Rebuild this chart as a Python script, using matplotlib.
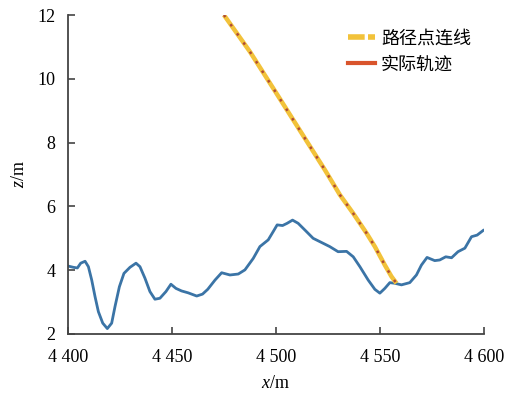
import matplotlib.pyplot as plt
from matplotlib.lines import Line2D

# terrain profile
terrain_x = [4400, 4402.6, 4404.5, 4406.1, 4408.2, 4409.8, 4411.4, 4413.0, 4414.6, 4416.7,
             4418.9, 4421.0, 4422.6, 4424.7, 4426.9, 4429.8, 4432.7, 4434.6, 4437.0, 4439.4,
             4441.8, 4444.2, 4447.1, 4449.5, 4451.9, 4454.6, 4457.8, 4461.9, 4464.7, 4467.2,
             4470.7, 4473.9, 4477.9, 4481.9, 4485.1, 4489.1, 4492.3, 4496.3, 4498.7, 4500.6,
             4503.2, 4505.4, 4508.0, 4510.7, 4514.4, 4517.9, 4521.9, 4525.9, 4529.9, 4534.0,
             4537.2, 4540.4, 4544.4, 4547.6, 4550.0, 4552.4, 4554.8, 4557.2, 4560.4, 4564.4,
             4567.6, 4570.0, 4572.7, 4576.4, 4578.8, 4581.7, 4584.5, 4587.6, 4590.9, 4594.1,
             4596.8, 4600]
terrain_z = [4.13, 4.09, 4.07, 4.22, 4.28, 4.11, 3.69, 3.17, 2.70, 2.34,
             2.17, 2.34, 2.86, 3.48, 3.90, 4.09, 4.22, 4.11, 3.75, 3.33,
             3.09, 3.12, 3.33, 3.56, 3.43, 3.35, 3.29, 3.19, 3.25, 3.40,
             3.69, 3.92, 3.85, 3.88, 4.01, 4.37, 4.74, 4.95, 5.21, 5.42,
             5.40, 5.47, 5.57, 5.47, 5.23, 5.00, 4.87, 4.74, 4.58, 4.59,
             4.42, 4.11, 3.69, 3.40, 3.28, 3.43, 3.61, 3.59, 3.54, 3.61,
             3.85, 4.16, 4.40, 4.30, 4.32, 4.42, 4.39, 4.58, 4.69, 5.05,
             5.10, 5.26]

# planned path (waypoint connection) and actual trajectory
path_x = [4475, 4487.5, 4500, 4523.6, 4530.8, 4537.2, 4543.6, 4547.6, 4552.4, 4555.6, 4558.0]
path_z = [12.0, 10.85, 9.57, 7.14, 6.36, 5.78, 5.16, 4.74, 4.16, 3.80, 3.59]
track_x = path_x
track_z = path_z

plt.rcParams['font.family'] = ['Liberation Serif', 'Noto Sans CJK SC']
plt.rcParams['mathtext.fontset'] = 'custom'
plt.rcParams['mathtext.it'] = 'Liberation Serif:italic'
plt.rcParams['mathtext.rm'] = 'Liberation Serif'

fig = plt.figure(figsize=(5.05, 3.96), dpi=100)
ax = fig.add_axes([0.1347, 0.1566, 0.8233, 0.8055])

ax.plot(terrain_x, terrain_z, color='#3b74a6', lw=2.0, zorder=2,
        solid_joinstyle='round', solid_capstyle='round')
ax.plot(path_x, path_z, color='#f2c23a', lw=3.2, zorder=3, solid_capstyle='butt')
ax.plot(track_x, track_z, color='#b04a35', lw=1.8, ls=(0, (1, 3.5)), zorder=4)

ax.set_xlim(4400, 4600)
ax.set_ylim(2, 12)
ax.set_xticks([4400, 4450, 4500, 4550, 4600])
ax.set_xticklabels(['4 400', '4 450', '4 500', '4 550', '4 600'])
ax.set_yticks([2, 4, 6, 8, 10, 12])
for s in ['top', 'right']:
    ax.spines[s].set_visible(False)
for s in ['left', 'bottom']:
    ax.spines[s].set_color('#444444')
    ax.spines[s].set_linewidth(1.3)
ax.tick_params(direction='in', length=5, width=1.2, color='#444444', labelsize=13)
ax.tick_params(axis='x', pad=11)
ax.tick_params(axis='y', pad=9)
ax.set_xlabel('$x$/m', fontsize=13, labelpad=6)
ax.set_ylabel('$z$/m', fontsize=13, labelpad=7)

handles = [Line2D([], [], color='#f2c23a', lw=4, ls=(0, (3.0, 0.6))),
           Line2D([], [], color='#d9542c', lw=3)]
ax.legend(handles, ['路径点连线', '实际轨迹'], loc='upper right', bbox_to_anchor=(1.008, 1.005),
          frameon=False, prop={'family': ['Noto Sans CJK SC'], 'size': 13},
          handlelength=1.5, handletextpad=0.3, labelspacing=0.45)

fig.savefig('out.png', dpi=100)
